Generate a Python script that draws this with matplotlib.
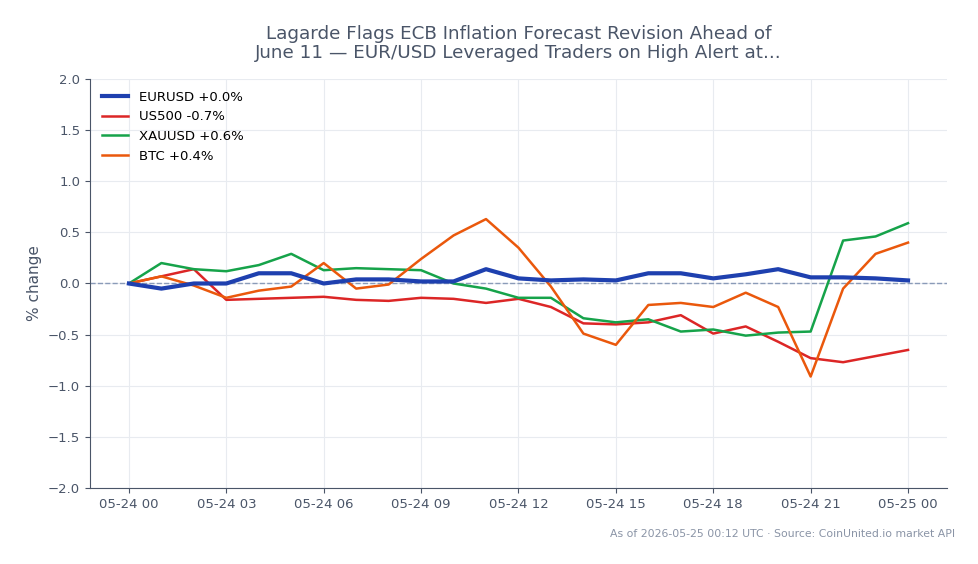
import matplotlib
matplotlib.use("Agg")
import matplotlib.pyplot as plt
import matplotlib.dates as mdates
import pandas as pd

times = pd.date_range("2026-05-24 00:00", periods=25, freq="h")

eurusd = [0.0, -0.05, 0.0, 0.0, 0.10, 0.10, 0.0, 0.04, 0.04, 0.02, 0.02, 0.14, 0.05,
          0.03, 0.04, 0.03, 0.10, 0.10, 0.05, 0.09, 0.14, 0.06, 0.06, 0.05, 0.03]
us500 = [0.0, 0.07, 0.14, -0.16, -0.15, -0.14, -0.13, -0.16, -0.17, -0.14, -0.15, -0.19, -0.15,
         -0.23, -0.39, -0.40, -0.38, -0.31, -0.49, -0.42, -0.57, -0.73, -0.77, -0.71, -0.65]
xauusd = [0.0, 0.20, 0.14, 0.12, 0.18, 0.29, 0.13, 0.15, 0.14, 0.13, 0.0, -0.05, -0.14,
          -0.14, -0.34, -0.38, -0.35, -0.47, -0.45, -0.51, -0.48, -0.47, 0.42, 0.46, 0.59]
btc = [0.0, 0.07, -0.02, -0.14, -0.07, -0.03, 0.20, -0.05, -0.01, 0.24, 0.47, 0.63, 0.35,
       -0.03, -0.49, -0.60, -0.21, -0.19, -0.23, -0.09, -0.23, -0.91, -0.05, 0.29, 0.40]

labels = ["EURUSD +0.0%", "US500 -0.7%", "XAUUSD +0.6%", "BTC +0.4%"]

fig = plt.figure(figsize=(9.79, 5.64), dpi=100)
ax = fig.add_axes([0.0919, 0.1348, 0.8754, 0.7251])

ax.plot(times, eurusd, color="#1e40af", lw=3, label=labels[0], zorder=5)
ax.plot(times, us500, color="#dc2626", lw=1.8, label=labels[1])
ax.plot(times, xauusd, color="#16a34a", lw=1.8, label=labels[2])
ax.plot(times, btc, color="#ea580c", lw=1.8, label=labels[3])
ax.axhline(0, color="#8a9bb8", lw=1, ls="--", zorder=1)

ax.set_ylim(-2, 2)
ax.set_xlim(times[0] - pd.Timedelta(hours=1.2), times[-1] + pd.Timedelta(hours=1.2))
ax.xaxis.set_major_locator(mdates.HourLocator(byhour=range(0, 24, 3)))
ax.xaxis.set_major_formatter(mdates.DateFormatter("%m-%d %H"))

ax.grid(True, color="#e8ebf0", lw=0.8)
ax.set_axisbelow(True)
for s in ["top", "right"]:
    ax.spines[s].set_visible(False)
for s in ["left", "bottom"]:
    ax.spines[s].set_color("#4a5568")
ax.tick_params(colors="#4a5568", labelsize=9.5)
ax.set_ylabel("% change", color="#4a5568", fontsize=11)

ax.legend(loc="upper left", frameon=False, fontsize=9.5)

ax.set_title("Lagarde Flags ECB Inflation Forecast Revision Ahead of\n"
             "June 11 \u2014 EUR/USD Leveraged Traders on High Alert at...",
             color="#4a5568", fontsize=13.2, pad=15, linespacing=1.1)
fig.text(0.976, 0.053, "As of 2026-05-25 00:12 UTC \u00b7 Source: CoinUnited.io market API",
         ha="right", va="center", color="#8a94a6", fontsize=7.8)

fig.savefig("out.png", dpi=100)
